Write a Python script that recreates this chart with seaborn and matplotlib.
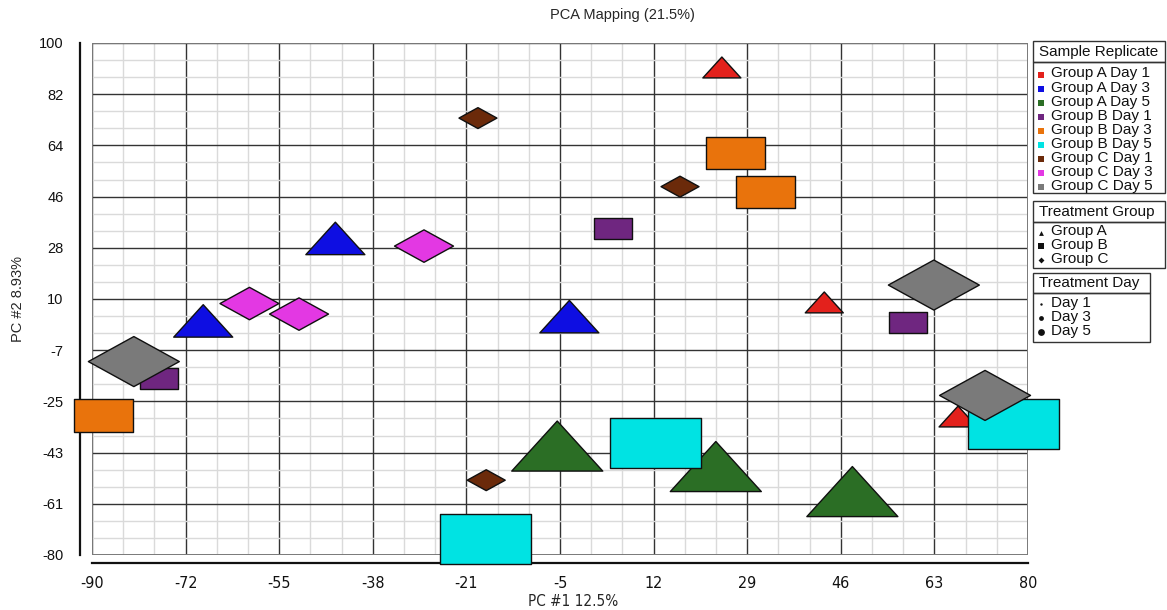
import numpy as np
import pandas as pd
import matplotlib
matplotlib.use("Agg")
import matplotlib.pyplot as plt
from matplotlib import font_manager as fm
from matplotlib.path import Path
from matplotlib.patches import Rectangle
from matplotlib.ticker import AutoMinorLocator
import seaborn as sns

# ---- data -------------------------------------------------------------
replicates = ["Group A Day 1", "Group A Day 3", "Group A Day 5",
              "Group B Day 1", "Group B Day 3", "Group B Day 5",
              "Group C Day 1", "Group C Day 3", "Group C Day 5"]
groups = ["Group A", "Group B", "Group C"]
days = ["Day 1", "Day 3", "Day 5"]

palette = ["#e3211c", "#0e0ee2", "#2b6e25",
           "#6f2680", "#e9730c", "#00e3e3",
           "#6b2a0a", "#e338e3", "#7a7a7a"]

# three replicates per group/day combination
pc1 = [24.4, 43.0, 67.3,      # A1
       -69.8, -45.8, -3.3,    # A3
       -5.5, 23.3, 48.1,      # A5
       4.6, -77.9, 58.2,      # B1
       26.9, 32.4, -87.9,     # B3
       77.3, 12.3, -18.6,     # B5
       -19.9, 16.8, -18.4,    # C1
       -29.7, -61.4, -52.4,   # C3
       -82.4, 62.9, 72.2]     # C5
pc2 = [91.4, 8.8, -31.3,
       2.3, 31.3, 3.8,
       -41.7, -48.9, -57.7,
       34.8, -18.1, 1.7,
       61.3, 47.6, -31.0,
       -34.1, -40.5, -74.3,
       73.6, 49.5, -53.7,
       28.6, 8.4, 4.7,
       -12.0, 14.9, -23.9]

x_tick_labels = ["-90", "-72", "-55", "-38", "-21", "-5", "12", "29", "46", "63", "80"]
y_tick_labels = ["-80", "-61", "-43", "-25", "-7", "10", "28", "46", "64", "82", "100"]

df = pd.DataFrame({
    "pc1": pc1,
    "pc2": pc2,
    "replicate": np.repeat(replicates, 3),
    "group": np.repeat(groups, 9),
    "day": np.tile(np.repeat(days, 3), 3),
})

# ---- marker shapes (wide, flattened) ----------------------------------
H = 0.55
tri = Path([(-1, -H), (1, -H), (0, H), (-1, -H)],
           [Path.MOVETO, Path.LINETO, Path.LINETO, Path.CLOSEPOLY])
rect = Path([(-1, -H), (1, -H), (1, H), (-1, H), (-1, -H)],
            [Path.MOVETO, Path.LINETO, Path.LINETO, Path.LINETO, Path.CLOSEPOLY])
diam = Path([(-1, 0), (0, -H), (1, 0), (0, H), (-1, 0)],
            [Path.MOVETO, Path.LINETO, Path.LINETO, Path.LINETO, Path.CLOSEPOLY])
shape_map = {"Group A": tri, "Group B": rect, "Group C": diam}
size_map = {"Day 1": (38 * 0.72) ** 2, "Day 3": (59 * 0.72) ** 2, "Day 5": (91 * 0.72) ** 2}

# ---- figure -----------------------------------------------------------
sns.set_style("white")
plt.rcParams["font.family"] = ["Liberation Sans", "DejaVu Sans"]

# narrow face for the horizontal-axis text
_installed = {(f.name, f.stretch) for f in fm.fontManager.ttflist}
if any(n == "Liberation Sans Narrow" for n, _ in _installed):
    narrow = dict(family="Liberation Sans Narrow")
elif ("DejaVu Sans", "condensed") in _installed or ("DejaVu Sans", 300) in _installed:
    narrow = dict(family="DejaVu Sans", stretch="condensed")
else:
    narrow = dict(family="Liberation Sans")

W, Hpx = 1167, 610
fig = plt.figure(figsize=(W / 100, Hpx / 100), dpi=100)
ax = fig.add_axes([92 / W, 1 - 555 / Hpx, 936 / W, 512 / Hpx])

sns.scatterplot(data=df, x="pc1", y="pc2",
                hue="replicate", hue_order=replicates, palette=palette,
                style="group", style_order=groups, markers=shape_map,
                size="day", size_order=days, sizes=size_map,
                edgecolor="#101010", linewidth=1.0, alpha=1,
                legend=False, ax=ax, zorder=3)
for coll in ax.collections:
    coll.set_clip_on(False)

ax.set_xlim(-90, 80)
ax.set_ylim(-80, 100)
ax.set_xticks(np.linspace(-90, 80, 11))
ax.set_xticklabels(x_tick_labels)
ax.set_yticks(np.linspace(-80, 100, 11))
ax.set_yticklabels(y_tick_labels)
ax.xaxis.set_minor_locator(AutoMinorLocator(3))
ax.yaxis.set_minor_locator(AutoMinorLocator(3))
ax.set_axisbelow(True)
ax.grid(which="minor", color="#dadada", lw=1.0)
ax.grid(which="major", color="#333333", lw=1.0)
ax.tick_params(which="minor", length=0)

for s in ("top", "right"):
    ax.spines[s].set_visible(False)
ax.spines["left"].set_position(("outward", 8.6))
ax.spines["bottom"].set_position(("outward", 5.8))
for s in ("left", "bottom"):
    ax.spines[s].set_linewidth(1.6)
    ax.spines[s].set_color("#111111")
ax.tick_params(axis="y", which="major", direction="out", length=3, width=1.2,
               pad=9, labelsize=10.5, colors="#111111")
ax.tick_params(axis="x", which="major", direction="in", length=3, width=1.2,
               pad=9, labelsize=11.5, colors="#111111")
for lab in ax.get_xticklabels():
    lab.set_fontproperties(fm.FontProperties(size=11.5, **narrow))

# plot-area frame
ax.add_patch(Rectangle((0, 0), 1, 1, transform=ax.transAxes, fill=False,
                       edgecolor="#7a7a7a", lw=1.4, zorder=1))

ax.set_xlabel("")
ax.set_ylabel("")
fig.text(573 / W, 1 - 601 / Hpx, "PC #1 12.5%", ha="center", va="center",
         fontproperties=fm.FontProperties(size=11, **narrow))
fig.text(18 / W, 1 - 299 / Hpx, "PC #2 8.93%", ha="center", va="center",
         rotation=90, fontsize=10.5)
fig.text(622 / W, 1 - 15 / Hpx, "PCA Mapping (21.5%)", ha="center", va="center",
         fontsize=10.5)


# ---- legends (figure-pixel helpers) -----------------------------------
def fx(px):
    return px / W


def fy(py):
    return 1 - py / Hpx


def box(x0, y0, x1, y1):
    fig.patches.append(Rectangle((fx(x0), fy(y1)), fx(x1) - fx(x0), fy(y0) - fy(y1),
                                 transform=fig.transFigure, fill=False,
                                 edgecolor="#333333", lw=1.0))


def legend_block(title, x0, x1, y_head, y_split, y_end, labels, rows_y, draw_key):
    box(x0, y_head, x1, y_split)
    box(x0, y_split, x1, y_end)
    fig.text(fx(x0 + 6), fy((y_head + y_split) / 2 + 0.5), title,
             ha="left", va="center", fontsize=11, color="#111111")
    for i, (lab, ry) in enumerate(zip(labels, rows_y)):
        draw_key(i, ry)
        fig.text(fx(1051), fy(ry), lab, ha="left", va="center",
                 fontsize=11, color="#111111")


key_ax = fig.add_axes([0, 0, 1, 1], facecolor="none")
key_ax.set_xlim(0, W)
key_ax.set_ylim(Hpx, 0)
key_ax.axis("off")

rep_rows = [73.5 + 14.1 * i for i in range(len(replicates))]
legend_block("Sample Replicate", 1033, 1165, 41, 62, 193, replicates, rep_rows,
             lambda i, ry: key_ax.scatter([1040.5], [ry + 1], marker="s", s=22,
                                          color=palette[i], linewidths=0))

grp_rows = [231.5, 245, 258.5]
grp_marks = ["^", "s", "D"]
grp_sizes = [12, 22, 9]
legend_block("Treatment Group", 1033, 1165, 201, 222, 268, groups, grp_rows,
             lambda i, ry: key_ax.scatter([1040.5], [ry + 1], marker=grp_marks[i],
                                          s=grp_sizes[i], color="#111111", linewidths=0))

day_rows = [303, 317, 331]
day_sizes = [3, 12, 24]
legend_block("Treatment Day", 1033, 1150, 273, 293, 342, days, day_rows,
             lambda i, ry: key_ax.scatter([1040.5], [ry + 1], marker="o",
                                          s=day_sizes[i], color="#111111", linewidths=0))

fig.savefig("out.png", dpi=100)
